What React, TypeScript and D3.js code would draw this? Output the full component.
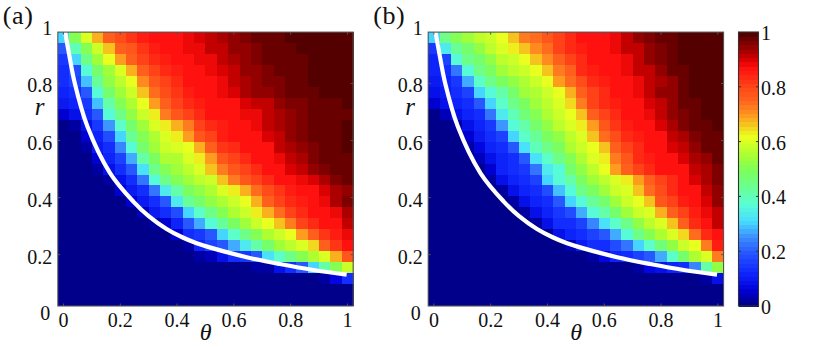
import * as d3 from "d3";

// tick labels
const thetaTicks = [0, 0.2, 0.4, 0.6, 0.8, 1];
const rTicks = [0, 0.2, 0.4, 0.6, 0.8, 1];
const barTicks = [0, 0.2, 0.4, 0.6, 0.8, 1];

// heat values in percent, top row first, theta 0..1 left to right
const panelARows = [
  [30,50,60,68,76,79,82,85,86,87,87,89,90,92,93,95,96,97,97,97,99,99,99,99,99,99],
  [20,40,50,58,67,76,78,82,85,86,87,88,89,91,92,94,95,96,97,97,98,99,99,99,99,99],
  [15,30,45,54,61,69,76,80,83,85,86,87,88,89,91,93,94,96,97,97,97,98,99,99,99,99],
  [14,18,37,47,54,60,68,76,80,83,85,87,87,88,90,91,94,95,96,97,97,98,99,99,99,99],
  [13,16,29,43,52,57,62,71,78,81,84,86,87,87,89,91,93,94,96,96,97,98,99,99,99,99],
  [12,13,20,36,47,54,58,67,74,79,82,85,86,87,88,90,93,94,95,96,97,97,98,99,99,99],
  [10,12,15,29,41,50,56,61,69,75,80,83,85,86,87,87,90,91,92,95,96,96,97,98,98,99],
  [6,9,13,20,36,45,52,58,63,72,77,81,84,86,87,87,88,89,91,93,95,96,97,97,98,98],
  [0,3,9,15,25,38,47,54,60,64,68,73,80,83,85,86,87,89,91,93,94,96,97,98,98,99],
  [0,0,6,12,18,31,43,51,56,60,64,70,77,80,85,86,87,87,90,92,94,96,97,98,98,99],
  [0,0,2,10,14,24,37,47,54,58,60,62,68,76,82,84,86,87,87,91,93,95,96,97,98,99],
  [0,0,0,5,12,17,28,41,49,55,56,60,63,70,77,80,84,86,87,89,91,93,96,97,97,98],
  [0,0,0,2,8,13,20,32,45,51,54,57,60,66,72,77,81,84,87,87,90,92,94,96,97,98],
  [0,0,0,0,2,9,14,22,36,44,50,54,57,59,66,72,78,81,84,86,87,89,90,93,96,97],
  [0,0,0,0,0,5,10,13,22,33,42,49,53,56,60,63,68,74,79,82,85,87,87,90,93,95],
  [0,0,0,0,0,0,5,10,14,20,33,43,47,52,55,58,62,68,76,80,83,85,87,89,93,96],
  [0,0,0,0,0,0,0,4,10,13,18,30,38,45,50,55,58,63,68,74,80,84,86,87,89,93],
  [0,0,0,0,0,0,0,0,2,6,11,20,27,37,43,49,54,58,61,66,72,80,84,87,87,92],
  [0,0,0,0,0,0,0,0,0,0,5,13,15,19,30,38,44,50,56,58,62,70,75,82,85,89],
  [0,0,0,0,0,0,0,0,0,0,0,2,12,16,19,28,34,41,47,54,57,60,65,75,82,86],
  [0,0,0,0,0,0,0,0,0,0,0,0,2,4,8,13,15,20,32,38,44,50,55,60,68,78],
  [0,0,0,0,0,0,0,0,0,0,0,0,0,0,0,0,0,3,3,8,13,20,30,42,50,58],
  [0,0,0,0,0,0,0,0,0,0,0,0,0,0,0,0,0,0,0,0,0,0,0,3,7,13],
  [0,0,0,0,0,0,0,0,0,0,0,0,0,0,0,0,0,0,0,0,0,0,0,0,0,0],
  [0,0,0,0,0,0,0,0,0,0,0,0,0,0,0,0,0,0,0,0,0,0,0,0,0,0],
];

const panelBRows = [
  [30,45,50,54,57,59,62,66,72,74,78,81,84,86,87,87,89,91,94,96,97,98,99,99,99,99],
  [15,33,43,48,53,57,60,63,67,71,74,80,83,85,87,87,88,91,92,95,96,98,99,99,99,99],
  [12,17,36,45,48,53,57,59,62,67,71,76,81,84,86,87,87,89,92,95,96,97,99,99,99,99],
  [11,13,22,36,45,49,54,57,59,61,66,72,76,83,85,87,87,88,91,92,94,97,98,99,99,99],
  [10,12,15,27,38,44,49,53,56,59,61,69,74,79,84,85,87,87,89,92,93,95,97,99,99,99],
  [8,10,13,17,30,37,42,48,54,56,59,62,68,76,81,83,86,87,88,91,94,95,97,99,99,99],
  [6,8,12,14,19,31,39,44,49,54,57,60,65,73,80,83,85,87,87,90,92,94,97,98,99,99],
  [0,4,8,12,14,22,34,40,46,51,55,58,62,67,76,80,84,86,87,88,91,94,96,97,99,99],
  [0,0,3,9,12,15,25,37,41,47,52,57,60,63,70,77,82,85,86,87,90,93,96,97,98,99],
  [0,0,0,5,10,13,17,30,39,43,49,53,57,60,66,74,79,83,85,87,87,91,93,96,97,98],
  [0,0,0,2,7,12,14,19,32,40,44,49,55,58,61,67,75,81,84,86,87,90,92,95,97,98],
  [0,0,0,0,4,9,12,14,20,32,39,44,50,56,60,63,72,77,83,85,87,87,90,93,95,97],
  [0,0,0,0,0,6,11,13,15,23,33,37,47,52,57,62,69,75,80,84,86,87,87,91,93,96],
  [0,0,0,0,0,3,8,12,13,17,30,36,42,49,54,57,60,63,70,75,81,84,87,90,93,96],
  [0,0,0,0,0,0,2,9,12,14,18,29,37,44,49,54,58,60,66,74,79,83,86,87,91,95],
  [0,0,0,0,0,0,0,3,8,12,14,20,30,36,43,48,54,58,61,66,77,81,85,87,90,94],
  [0,0,0,0,0,0,0,0,2,8,12,15,18,28,36,41,47,54,58,60,68,76,81,85,88,92],
  [0,0,0,0,0,0,0,0,0,2,8,13,14,17,24,32,39,45,52,57,60,67,76,84,87,91],
  [0,0,0,0,0,0,0,0,0,0,0,9,12,13,16,19,28,37,44,50,56,60,65,74,83,87],
  [0,0,0,0,0,0,0,0,0,0,0,0,4,10,13,14,18,22,31,39,46,52,58,62,73,85],
  [0,0,0,0,0,0,0,0,0,0,0,0,0,0,2,7,12,13,17,20,27,38,47,55,60,72],
  [0,0,0,0,0,0,0,0,0,0,0,0,0,0,0,0,0,0,2,7,9,12,14,24,41,53],
  [0,0,0,0,0,0,0,0,0,0,0,0,0,0,0,0,0,0,0,0,0,0,0,0,2,8],
  [0,0,0,0,0,0,0,0,0,0,0,0,0,0,0,0,0,0,0,0,0,0,0,0,0,0],
  [0,0,0,0,0,0,0,0,0,0,0,0,0,0,0,0,0,0,0,0,0,0,0,0,0,0],
];

// white threshold curve, same in both panels
const curveTheta = [0.005, 0.017, 0.04, 0.084, 0.164, 0.246, 0.3, 0.363, 0.42, 0.469, 0.527, 0.645, 0.762, 0.88, 0.997];
const curveR = [0.985, 0.918, 0.8, 0.65, 0.486, 0.386, 0.335, 0.29, 0.26, 0.24, 0.222, 0.191, 0.167, 0.146, 0.13];

// colour bar
const barStops = [0, 0.06, 0.125, 0.2, 0.25, 0.31, 0.375, 0.45, 0.5, 0.55, 0.62, 0.66, 0.7, 0.75, 0.8, 0.87, 0.9, 0.95, 1];
const barColors = ["#000080", "#0000d8", "#1028ff", "#285aff", "#3c8cff", "#46dcff", "#5affd2", "#6eff82", "#7dff5a", "#aaff32", "#ebff1e", "#f5c81e", "#ff9620", "#ff641e", "#ff4619", "#ff0f0f", "#d70000", "#8c0000", "#4b0000"];
const levels = 64;

const color = d3.scaleLinear<string>().domain(barStops).range(barColors).interpolate(d3.interpolateRgb);
const stepped = (v: number) => color((Math.min(levels - 1, Math.floor(v * levels)) + 0.5) / levels);

const serif = "'Liberation Serif', serif";
const axisColor = "#555";

const Panel = ({ left, rows, label }: { left: number; rows: number[][]; label: string }) => {
  const x = d3.scaleLinear().domain([0, 1]).range([left + 5.68, left + 5.68 + 284]);
  const y = d3.scaleLinear().domain([0, 1]).range([311.7, 26.4]);
  const rowStep = 0.96 / rows.length;
  const line = d3
    .line<number>()
    .x((d) => x(d))
    .y((_, i) => y(curveR[i]))
    .curve(d3.curveCatmullRom);
  const x0 = x(-0.02);
  const x1 = x(1.02);
  const y0 = y(0.02);
  const y1 = y(0.98);
  const clipId = `clip-${left}`;

  return (
    <g>
      <clipPath id={clipId}>
        <rect x={x0} y={y1} width={x1 - x0} height={y0 - y1} />
      </clipPath>
      <g shapeRendering="crispEdges">
        {rows.map((row, i) =>
          row.map((v, j) => (
            <rect
              key={`${i}-${j}`}
              x={x(j * 0.04 - 0.02)}
              y={y(0.98 - i * rowStep)}
              width={x(0.04) - x(0) + 0.5}
              height={y(0) - y(rowStep) + 0.5}
              fill={stepped(v / 100)}
            />
          ))
        )}
      </g>
      <path
        d={line(curveTheta) ?? ""}
        fill="none"
        stroke="#fff"
        strokeWidth={4.2}
        clipPath={`url(#${clipId})`}
      />
      <rect x={x0} y={y1} width={x1 - x0} height={y0 - y1} fill="none" stroke={axisColor} strokeWidth={1.1} />
      {thetaTicks.map((t) => (
        <g key={t}>
          <line x1={x(t)} x2={x(t)} y1={y0} y2={y0 - 2.5} stroke={axisColor} />
          <line x1={x(t)} x2={x(t)} y1={y1} y2={y1 + 2.5} stroke={axisColor} />
          <text x={x(t)} y={327} textAnchor="middle" fontFamily={serif} fontSize={20} fill="#111">
            {t}
          </text>
        </g>
      ))}
      {rTicks.map((t) => (
        <g key={t}>
          {t > 0 && t < 1 && (
            <>
              <line x1={x0} x2={x0 + 2.5} y1={y(t)} y2={y(t)} stroke={axisColor} />
              <line x1={x1} x2={x1 - 2.5} y1={y(t)} y2={y(t)} stroke={axisColor} />
            </>
          )}
          <text
            x={left - 5.5 - (t === 0 ? 2 : 0)}
            y={y(t) + (t === 1 ? 8.5 : t === 0 ? 8 : 9)}
            textAnchor="end"
            fontFamily={serif}
            fontSize={20}
            fill="#111"
          >
            {t}
          </text>
        </g>
      ))}
      <text x={left - 23} y={115} fontFamily={serif} fontStyle="italic" fontSize={25} fill="#111">
        r
      </text>
      <text x={left + 142} y={340} fontFamily={serif} fontStyle="italic" fontSize={24} fill="#111">
        θ
      </text>
      <text x={left - 55} y={24} fontFamily={serif} fontSize={26} letterSpacing={0.6} fill="#111">
        {label}
      </text>
    </g>
  );
};

const ColorBar = () => {
  const y = d3.scaleLinear().domain([0, 1]).range([306, 32]);
  const left = 738.5;
  const width = 20;
  const cells = d3.range(levels);
  return (
    <g>
      <g shapeRendering="crispEdges">
        {cells.map((k) => (
          <rect
            key={k}
            x={left}
            y={y((k + 1) / levels)}
            width={width}
            height={y(k / levels) - y((k + 1) / levels) + 0.5}
            fill={stepped((k + 0.5) / levels)}
          />
        ))}
      </g>
      <rect x={left} y={32} width={width} height={274} fill="none" stroke="#333" strokeWidth={1.1} />
      {barTicks.map((t) => (
        <g key={t}>
          {t > 0 && t < 1 && (
            <>
              <line x1={left} x2={left + 2.5} y1={y(t)} y2={y(t)} stroke="#333" />
              <line x1={left + width} x2={left + width - 2.5} y1={y(t)} y2={y(t)} stroke="#333" />
            </>
          )}
          <text x={761} y={y(t) + 8} fontFamily={serif} fontSize={20} fill="#111">
            {t}
          </text>
        </g>
      ))}
    </g>
  );
};

export default function App() {
  return (
    <svg
      width={818}
      height={347}
      viewBox="0 0 818 347"
      style={{ position: "absolute", left: 0, top: 0, background: "#fff" }}
    >
      <Panel left={57.8} rows={panelARows} label="(a)" />
      <Panel left={428.2} rows={panelBRows} label="(b)" />
      <ColorBar />
    </svg>
  );
}
